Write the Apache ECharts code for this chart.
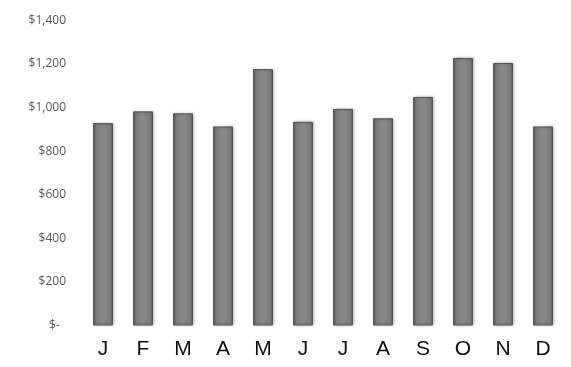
<!DOCTYPE html>
<html><head><meta charset="utf-8">
<script src="https://cdn.jsdelivr.net/npm/echarts@6/dist/echarts.min.js"></script>
<style>html,body{margin:0;padding:0;background:#fff}#c{width:571px;height:367px}</style>
</head><body><div id="c"></div>
<script>
const categories = ['J','F','M','A','M','J','J','A','S','O','N','D'];
const sales = [929, 983, 974, 914, 1177, 935, 994, 951, 1049, 1228, 1205, 914];
const yTicks = [0, 200, 400, 600, 800, 1000, 1200, 1400];

const chart = echarts.init(document.getElementById('c'));
chart.setOption({
  animation: false,
  grid: { left: 83, right: 8, top: 20.5, bottom: 41.5, containLabel: false },
  xAxis: {
    type: 'category', data: categories,
    axisLine: { show: false }, axisTick: { show: false },
    axisLabel: { color: '#111', fontFamily: 'Liberation Sans', fontSize: 21, margin: 13 }
  },
  yAxis: {
    type: 'value', min: yTicks[0], max: yTicks[yTicks.length-1], interval: 200,
    splitLine: { show: false }, axisLine: { show: false }, axisTick: { show: false },
    axisLabel: {
      color: '#595959', fontFamily: 'Open Sans', fontSize: 12, margin: 17,
      formatter: v => v === 0 ? '$-  ' : '$' + v.toLocaleString('en-US')
    }
  },
  series: [{
    type: 'bar', data: sales, barWidth: 20,
    itemStyle: {
      color: new echarts.graphic.LinearGradient(0, 0, 1, 0, [
        { offset: 0, color: '#5e5e5e' },
        { offset: 0.15, color: '#7c7c7c' },
        { offset: 0.5, color: '#8a8a8a' },
        { offset: 0.85, color: '#7c7c7c' },
        { offset: 1, color: '#5e5e5e' }
      ]),
      borderColor: '#555', borderWidth: 1,
      shadowColor: 'rgba(0,0,0,0.25)', shadowBlur: 3, shadowOffsetX: 1, shadowOffsetY: 0
    }
  }]
});
</script></body></html>
